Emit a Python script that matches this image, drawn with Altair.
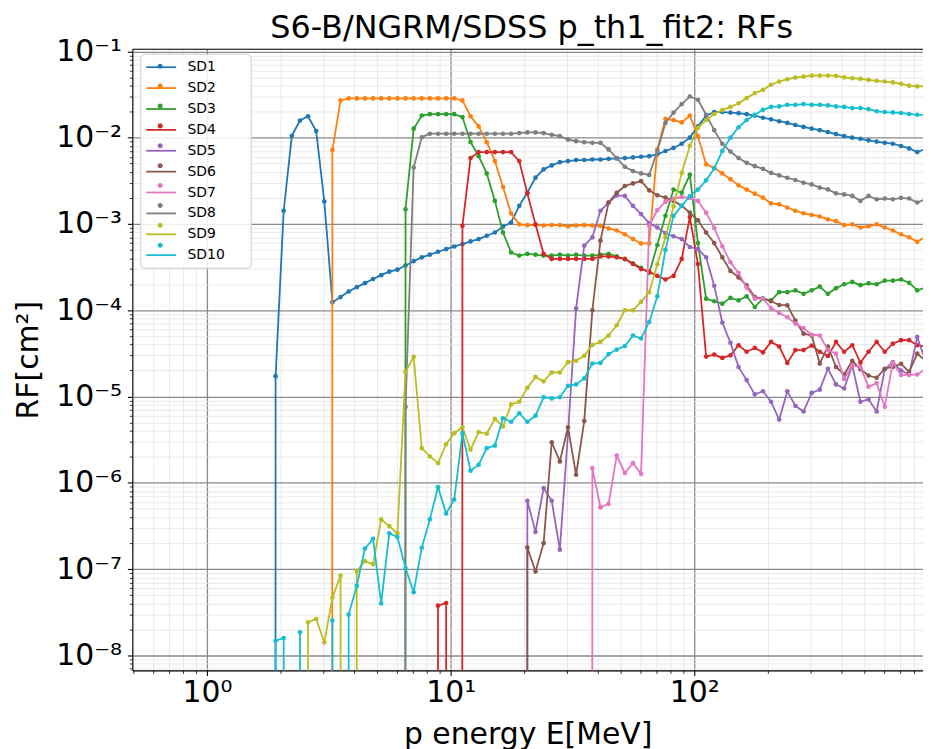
import math
import altair as alt
import pandas as pd

# ---------------- data ----------------
# energy grid (MeV), one value per plotted point
ENERGY = [
    1.771,
    1.913, 2.065, 2.230, 2.408, 2.599, 2.807, 3.031, 3.273, 3.534, 3.816,
    4.120, 4.449, 4.804, 5.187, 5.601, 6.047, 6.530, 7.051, 7.613, 8.220,
    8.877, 9.585, 10.35, 11.18, 12.07, 13.03, 14.07, 15.19, 16.40, 17.71,
    19.13, 20.65, 22.30, 24.08, 25.99, 28.07, 30.31, 32.73, 35.34, 38.16,
    41.20, 44.49, 48.04, 51.87, 56.01, 60.47, 65.30, 70.51, 76.13, 82.20,
    88.77, 95.85, 103.5, 111.8, 120.7, 130.3, 140.7, 151.9, 164.0, 177.1,
    191.3, 206.5, 223.0, 240.8, 259.9, 280.7, 303.1, 327.3, 353.4, 381.6,
    412.0, 444.9, 480.4, 518.7, 560.1, 604.7, 653.0, 705.1, 761.3, 822.0,
    887.7,
]

SD1 = [0,
    1.72e-5, 1.42e-3, 1.05e-2, 1.58e-2, 1.77e-2, 1.19e-2, 1.82e-3, 1.24e-4, 1.42e-4, 1.65e-4,
    1.85e-4, 2.06e-4, 2.3e-4, 2.55e-4, 2.8e-4, 2.95e-4, 3.3e-4, 3.7e-4, 4.1e-4, 4.4e-4,
    4.76e-4, 5.1e-4, 5.48e-4, 5.83e-4, 6.27e-4, 6.67e-4, 7.3e-4, 7.96e-4, 9.3e-4, 1.04e-3,
    1.62e-3, 2.31e-3, 3.44e-3, 4.29e-3, 4.77e-3, 5.2e-3, 5.35e-3, 5.5e-3, 5.5e-3, 5.58e-3,
    5.58e-3, 5.68e-3, 5.75e-3, 5.8e-3, 5.9e-3, 6.0e-3, 6.1e-3, 6.4e-3, 7.0e-3, 7.6e-3,
    8.5e-3, 1.0e-2, 1.35e-2, 1.8e-2, 1.98e-2, 1.98e-2, 1.95e-2, 1.92e-2, 1.87e-2, 1.8e-2,
    1.7e-2, 1.63e-2, 1.55e-2, 1.48e-2, 1.4e-2, 1.33e-2, 1.27e-2, 1.22e-2, 1.16e-2, 1.1e-2,
    1.04e-2, 1.0e-2, 9.7e-3, 9.3e-3, 9.0e-3, 8.7e-3, 8.5e-3, 8.0e-3, 7.5e-3, 6.8e-3,
    7.4e-3]

SD2 = [0,
    0, 0, 0, 0, 0, 0, 0, 7.2e-3, 2.7e-2, 2.85e-2,
    2.85e-2, 2.85e-2, 2.85e-2, 2.85e-2, 2.85e-2, 2.85e-2, 2.85e-2, 2.85e-2, 2.85e-2, 2.85e-2,
    2.85e-2, 2.85e-2, 2.85e-2, 2.7e-2, 1.77e-2, 1.35e-2, 8.85e-3, 5.35e-3, 2.68e-3, 1.32e-3,
    9.9e-4, 9.7e-4, 9.7e-4, 9.6e-4, 9.7e-4, 9.7e-4, 9.4e-4, 9.6e-4, 9.7e-4, 9.6e-4,
    9.5e-4, 8.85e-4, 8.4e-4, 7.6e-4, 6.67e-4, 5.94e-4, 5.94e-4, 7.3e-3, 1.65e-2, 1.6e-2,
    1.5e-2, 1.8e-2, 1.04e-2, 4.9e-3, 4.47e-3, 3.85e-3, 3.3e-3, 2.8e-3, 2.5e-3, 2.24e-3,
    2.02e-3, 1.73e-3, 1.69e-3, 1.55e-3, 1.42e-3, 1.33e-3, 1.27e-3, 1.22e-3, 1.13e-3, 1.08e-3,
    9.7e-4, 9.9e-4, 9.1e-4, 9.4e-4, 9.9e-4, 9.1e-4, 8.4e-4, 7.6e-4, 7.0e-4, 6.2e-4,
    7.1e-4]

SD3 = [0,
    0, 0, 0, 0, 0, 0, 0, 0, 0, 0,
    0, 0, 0, 0, 0, 0, 1.48e-3, 1.27e-2, 1.8e-2, 1.87e-2,
    1.87e-2, 1.87e-2, 1.87e-2, 1.73e-2, 8.9e-3, 6.1e-3, 3.85e-3, 1.85e-3, 7.96e-4, 4.67e-4,
    4.3e-4, 4.5e-4, 4.4e-4, 4.3e-4, 4.3e-4, 4.4e-4, 4.3e-4, 4.4e-4, 4.3e-4, 4.3e-4,
    4.4e-4, 4.5e-4, 4.2e-4, 3.9e-4, 3.5e-4, 3.1e-4, 2.7e-4, 5.7e-4, 1.24e-3, 2.5e-3,
    2.3e-3, 3.7e-3, 6.0e-4, 1.36e-4, 1.27e-4, 1.19e-4, 1.39e-4, 1.3e-4, 1.45e-4, 1.09e-4,
    1.36e-4, 1.3e-4, 1.62e-4, 1.62e-4, 1.7e-4, 1.55e-4, 1.7e-4, 1.88e-4, 1.55e-4, 1.8e-4,
    2.0e-4, 2.13e-4, 1.95e-4, 2.05e-4, 2.0e-4, 2.2e-4, 2.2e-4, 2.27e-4, 2.08e-4, 1.7e-4,
    1.83e-4]

SD4 = [0,
    0, 0, 0, 0, 0, 0, 0, 0, 0, 0,
    0, 0, 0, 0, 0, 0, 0, 0, 0, 0,
    3.77e-8, 4.04e-8, 0, 9.5e-4, 5.8e-3, 6.8e-3, 6.8e-3, 6.8e-3, 6.8e-3, 6.8e-3,
    5.35e-3, 2.26e-3, 9.9e-4, 4.5e-4, 3.93e-4, 3.93e-4, 3.93e-4, 3.93e-4, 3.93e-4, 3.93e-4,
    4.2e-4, 4.2e-4, 4.1e-4, 3.93e-4, 3.43e-4, 3.0e-4, 2.8e-4, 2.5e-4, 2.27e-4, 2.5e-4,
    3.93e-4, 1.2e-3, 3.43e-4, 2.9e-5, 3.06e-5, 2.8e-5, 3.0e-5, 3.93e-5, 3.3e-5, 3.66e-5,
    3.25e-5, 4.29e-5, 3.8e-5, 2.45e-5, 3.45e-5, 3.45e-5, 3.9e-5, 3.3e-5, 2.95e-5, 4.29e-5,
    3.3e-5, 3.93e-5, 2.47e-5, 3.3e-5, 4.29e-5, 3.3e-5, 4.1e-5, 4.5e-5, 4.5e-5, 3.93e-5,
    3.8e-5]

SD5 = [0,
    0, 0, 0, 0, 0, 0, 0, 0, 0, 0,
    0, 0, 0, 0, 0, 0, 0, 0, 0, 0,
    0, 0, 0, 0, 0, 0, 0, 0, 0, 0,
    0, 6.2e-7, 2.7e-7, 8.7e-7, 6.2e-7, 1.68e-7, 3.72e-6, 1.05e-4, 5.6e-4, 7.0e-4,
    1.42e-3, 1.77e-3, 2.14e-3, 2.11e-3, 1.62e-3, 1.3e-3, 1.02e-3, 9.1e-4, 7.8e-4, 7.2e-4,
    6.67e-4, 5.4e-4, 5.1e-4, 4.1e-4, 1.92e-4, 7.2e-5, 4.2e-5, 2.2e-5, 1.55e-5, 1.06e-5,
    1.15e-5, 8.7e-6, 5.4e-6, 1.15e-5, 7.8e-6, 6.7e-6, 1.1e-5, 1.2e-5, 2.1e-5, 1.38e-5,
    1.24e-5, 2.3e-5, 8.7e-6, 9.3e-6, 6.7e-6, 2.07e-5, 2.5e-5, 2.0e-5, 1.8e-5, 4.9e-5,
    2.6e-5]

SD6 = [0,
    0, 0, 0, 0, 0, 0, 0, 0, 0, 0,
    0, 0, 0, 0, 0, 0, 0, 0, 0, 0,
    0, 0, 0, 0, 0, 0, 0, 0, 0, 0,
    0, 1.78e-7, 9.4e-8, 2.0e-7, 2.95e-6, 1.77e-6, 4.4e-6, 1.24e-6, 5.2e-6, 1.0e-4,
    6.4e-4, 1.77e-3, 2.3e-3, 2.75e-3, 2.95e-3, 3.14e-3, 2.45e-3, 2.15e-3, 2.02e-3, 1.85e-3,
    1.62e-3, 1.35e-3, 1.1e-3, 7.96e-4, 6.0e-4, 4.1e-4, 2.85e-4, 2.4e-4, 1.94e-4, 1.42e-4,
    1.36e-4, 1.27e-4, 1.15e-4, 1.14e-4, 7.6e-5, 5.35e-5, 5.1e-5, 2.41e-5, 3.8e-5, 2.2e-5,
    1.8e-5, 2.6e-5, 2.07e-5, 1.75e-5, 1.65e-5, 2.1e-5, 2.2e-5, 2.4e-5, 1.93e-5, 3.14e-5,
    2.6e-5]

SD7 = [0,
    0, 0, 0, 0, 0, 0, 0, 0, 0, 0,
    0, 0, 0, 0, 0, 0, 0, 0, 0, 0,
    0, 0, 0, 0, 0, 0, 0, 0, 0, 0,
    0, 0, 0, 0, 0, 0, 0, 0, 0, 1.48e-6,
    5.2e-7, 5.7e-7, 2.07e-6, 1.3e-6, 1.69e-6, 1.27e-6, 9.5e-4, 1.45e-3, 1.8e-3, 1.95e-3,
    2.05e-3, 2.0e-3, 1.85e-3, 1.35e-3, 9.0e-4, 5.5e-4, 3.6e-4, 2.7e-4, 1.83e-4, 1.36e-4,
    1.36e-4, 1.06e-4, 9.3e-5, 8.3e-5, 7.0e-5, 6.2e-5, 5.2e-5, 5.1e-5, 3.45e-5, 3.14e-5,
    1.6e-5, 2.3e-5, 2.2e-5, 1.3e-5, 1.43e-5, 7.6e-6, 2.47e-5, 1.78e-5, 1.78e-5, 1.8e-5,
    2.07e-5]

SD8 = [0,
    0, 0, 0, 0, 0, 0, 0, 0, 0, 0,
    0, 0, 0, 0, 0, 0, 7.6e-6, 4.5e-3, 1.01e-2, 1.11e-2,
    1.11e-2, 1.11e-2, 1.11e-2, 1.11e-2, 1.11e-2, 1.11e-2, 1.11e-2, 1.11e-2, 1.11e-2, 1.11e-2,
    1.13e-2, 1.15e-2, 1.15e-2, 1.13e-2, 1.08e-2, 1.04e-2, 9.5e-3, 9.1e-3, 8.85e-3, 8.7e-3,
    8.7e-3, 7.3e-3, 5.8e-3, 4.6e-3, 4.1e-3, 3.85e-3, 3.7e-3, 7.0e-3, 1.48e-2, 1.95e-2,
    2.45e-2, 3.0e-2, 2.75e-2, 1.84e-2, 1.22e-2, 8.5e-3, 6.9e-3, 5.8e-3, 5.1e-3, 4.67e-3,
    4.35e-3, 3.9e-3, 3.65e-3, 3.43e-3, 3.23e-3, 3.0e-3, 2.87e-3, 2.63e-3, 2.51e-3, 2.26e-3,
    2.2e-3, 2.11e-3, 1.85e-3, 2.11e-3, 1.93e-3, 1.97e-3, 1.93e-3, 2.0e-3, 1.97e-3, 1.77e-3,
    1.93e-3]

SD9 = [0,
    0, 0, 0, 0, 2.42e-8, 2.64e-8, 1.42e-8, 4.69e-8, 8.4e-8, 0,
    9.5e-8, 1.24e-7, 1.14e-7, 3.77e-7, 3.15e-7, 2.6e-7, 1.93e-5, 2.88e-5, 2.52e-6, 2.02e-6,
    1.69e-6, 2.8e-6, 3.76e-6, 4.4e-6, 2.42e-6, 3.86e-6, 3.7e-6, 5.5e-6, 4.5e-6, 8.1e-6,
    8.7e-6, 1.26e-5, 1.69e-5, 1.5e-5, 1.9e-5, 1.9e-5, 2.5e-5, 2.6e-5, 2.96e-5, 3.95e-5,
    4.29e-5, 5.1e-5, 6.7e-5, 1.0e-4, 1.0e-4, 1.25e-4, 1.62e-4, 3.4e-4, 7.0e-4, 1.6e-3,
    3.9e-3, 8.0e-3, 1.3e-2, 1.6e-2, 1.88e-2, 2.08e-2, 2.27e-2, 2.5e-2, 2.87e-2, 3.28e-2,
    3.58e-2, 4.1e-2, 4.47e-2, 4.75e-2, 4.97e-2, 5.1e-2, 5.24e-2, 5.24e-2, 5.24e-2, 5.2e-2,
    5.0e-2, 4.88e-2, 4.8e-2, 4.67e-2, 4.55e-2, 4.47e-2, 4.36e-2, 4.2e-2, 4.0e-2, 3.92e-2,
    3.95e-2]

SD10 = [0,
    1.48e-8, 1.59e-8, 0, 1.85e-8, 0, 0, 0, 2.53e-8, 0, 2.97e-8,
    6.4e-8, 1.73e-7, 2.25e-7, 4.0e-8, 2.6e-7, 2.35e-7, 1.03e-7, 5.4e-8, 1.77e-7, 3.77e-7,
    8.9e-7, 4.4e-7, 6.4e-7, 3.76e-6, 1.38e-6, 1.62e-6, 2.52e-6, 2.7e-6, 5.6e-6, 5.1e-6,
    6.4e-6, 5.1e-6, 6.0e-6, 9.8e-6, 9.5e-6, 9.8e-6, 1.33e-5, 1.38e-5, 1.62e-5, 2.41e-5,
    2.45e-5, 3.1e-5, 3.5e-5, 3.85e-5, 5.1e-5, 4.7e-5, 7.3e-5, 1.45e-4, 5.0e-4, 1.24e-3,
    1.62e-3, 2.1e-3, 2.5e-3, 3.2e-3, 4.4e-3, 7.0e-3, 1.0e-2, 1.32e-2, 1.6e-2, 1.84e-2,
    2.1e-2, 2.27e-2, 2.3e-2, 2.4e-2, 2.4e-2, 2.45e-2, 2.4e-2, 2.4e-2, 2.36e-2, 2.3e-2,
    2.27e-2, 2.2e-2, 2.2e-2, 2.14e-2, 2.02e-2, 1.98e-2, 1.96e-2, 1.93e-2, 1.88e-2, 1.84e-2,
    1.84e-2]

SERIES = ["SD1", "SD2", "SD3", "SD4", "SD5", "SD6", "SD7", "SD8", "SD9", "SD10"]
COLORS = ["#1f77b4", "#ff7f0e", "#2ca02c", "#d62728", "#9467bd",
          "#8c564b", "#e377c2", "#7f7f7f", "#bcbd22", "#17becf"]
VALUES = [SD1, SD2, SD3, SD4, SD5, SD6, SD7, SD8, SD9, SD10]

X_MAJOR = [1, 10, 100]
X_MINOR = [0.5, 0.6, 0.7, 0.8, 0.9, 2, 3, 4, 5, 6, 7, 8, 9,
           20, 30, 40, 50, 60, 70, 80, 90, 200, 300, 400, 500, 600, 700, 800]
Y_MAJOR = [1e-8, 1e-7, 1e-6, 1e-5, 1e-4, 1e-3, 1e-2, 1e-1]
XDOM = [0.494, 868]
YDOM = [6.7e-9, 0.107]
Y_MINOR = [m * 10.0 ** e for e in range(-9, -1) for m in range(2, 10)
           if YDOM[0] <= m * 10.0 ** e <= YDOM[1]]

TITLE = "S6-B/NGRM/SDSS p_th1_fit2: RFs"
XTITLE = "p energy E[MeV]"
YTITLE = "RF[cm²]"

# ---------------- table ----------------
rows = []
for name, vals in zip(SERIES, VALUES):
    assert len(vals) == len(ENERGY), (name, len(vals))
    for i, (e, v) in enumerate(zip(ENERGY, vals)):
        # like matplotlib's log-axis clipping: non-positive values fall off the bottom
        rows.append({"series": name, "E": e, "RF": v, "idx": i,
                     "RFp": v if v > 0 else 1e-300})
df = pd.DataFrame(rows)

FONT = "DejaVu Sans"
SUP = str.maketrans("-0123456789", "⁻⁰¹²³⁴⁵⁶⁷⁸⁹")


def pow_expr(vals):
    expr = "''"
    for v in vals:
        e = int(round(math.log10(v)))
        lab = "10" + str(e).translate(SUP)
        expr = f"abs(log(datum.value)/LN10 - ({e})) < 0.01 ? '{lab}' : " + expr
    return expr


xs = alt.Scale(type="log", domain=XDOM, nice=False)
ys = alt.Scale(type="log", domain=YDOM, nice=False)
cs = alt.Scale(domain=SERIES, range=COLORS)

base = alt.Chart(df)

minor_layer = base.mark_point(opacity=0, clip=True).encode(
    x=alt.X("E:Q", scale=xs, axis=alt.Axis(
        orient="bottom", values=X_MINOR, labels=False, grid=True,
        gridColor="#e3e3e3", gridWidth=0.8, ticks=True, tickSize=3,
        tickColor="#000000", tickWidth=0.8, domain=False, title=None)),
    y=alt.Y("RFp:Q", scale=ys, axis=alt.Axis(
        orient="left", values=Y_MINOR, labels=False, grid=True,
        gridColor="#e3e3e3", gridWidth=0.8, ticks=True, tickSize=3,
        tickColor="#000000", tickWidth=0.8, domain=False, title=None)),
)

major_layer = base.mark_point(opacity=0, clip=True).encode(
    x=alt.X("E:Q", scale=xs, axis=alt.Axis(
        orient="bottom", values=X_MAJOR, labelExpr=pow_expr(X_MAJOR),
        grid=True, gridColor="#8a8a8a", gridWidth=1.3,
        ticks=True, tickSize=5, tickColor="#000000", tickWidth=1.1,
        domain=True, domainColor="#000000", domainWidth=1.1,
        labelFont=FONT, labelFontSize=30, labelColor="#000000", labelPadding=2,
        labelFlush=False,
        title=XTITLE, titleFont=FONT, titleFontSize=30, titleFontWeight="normal",
        titleColor="#000000", titlePadding=12)),
    y=alt.Y("RFp:Q", scale=ys, axis=alt.Axis(
        orient="left", values=Y_MAJOR, labelExpr=pow_expr(Y_MAJOR),
        grid=True, gridColor="#8a8a8a", gridWidth=1.3,
        ticks=True, tickSize=5, tickColor="#000000", tickWidth=1.1,
        domain=True, domainColor="#000000", domainWidth=1.1,
        labelFont=FONT, labelFontSize=30, labelColor="#000000", labelPadding=6,
        labelFlush=False,
        title=YTITLE, titleFont=FONT, titleFontSize=30, titleFontWeight="normal",
        titleColor="#000000", titlePadding=12)),
)

top_layer = base.mark_point(opacity=0, clip=True).encode(
    x=alt.X("E:Q", scale=xs, axis=alt.Axis(
        orient="top", labels=False, ticks=False, grid=False, domain=True,
        domainColor="#000000", domainWidth=1.1, title=None)),
    y=alt.Y("RFp:Q", scale=ys, axis=None),
)

LEG_COMMON = dict(
    title=None, orient="none", legendX=8, legendY=5,
    symbolSize=225, symbolOffset=7.5,
    labelFont=FONT, labelFontSize=14, labelOffset=18,
    padding=5, rowPadding=5,
)
# line part of the legend key (drawn first, carries the box and labels);
# blank braille cells widen the frame like matplotlib's legend box
LEGEND_LINE = alt.Legend(
    symbolType="M-2,0H2", symbolStrokeWidth=1.8, labelColor="#000000",
    labelExpr="datum.label + '\u2800\u2800'",
    fillColor="rgba(255,255,255,0.85)", strokeColor="#cccccc", cornerRadius=4,
    **LEG_COMMON)
# dot part of the legend key (drawn on top, same layout, no box, no labels)
LEGEND_DOT = alt.Legend(
    symbolType="M-0.34,0A0.34,0.34,0,1,0,0.34,0A0.34,0.34,0,1,0,-0.34,0Z",
    symbolStrokeWidth=0, labelExpr="''", **LEG_COMMON)

layers = [minor_layer, major_layer, top_layer]
for j, s in enumerate(SERIES):
    sub = base.transform_filter(alt.datum.series == s)
    line = sub.mark_line(strokeWidth=1.8, clip=True).encode(
        x=alt.X("E:Q", scale=xs, axis=None),
        y=alt.Y("RFp:Q", scale=ys, axis=None),
        color=alt.Color("series:N", scale=cs,
                        legend=LEGEND_LINE if j == 0 else None),
        order=alt.Order("idx:Q"),
    )
    pts = sub.transform_filter(alt.datum.RF > 0).mark_circle(
        size=22, opacity=1, clip=True).encode(
        x=alt.X("E:Q", scale=xs, axis=None),
        y=alt.Y("RFp:Q", scale=ys, axis=None),
        color=alt.Color("series:N", scale=cs,
                        legend=LEGEND_DOT if j == 0 else None),
    )
    layers += [line, pts]

chart = alt.layer(*layers).resolve_axis(
    x="independent", y="independent"
).resolve_legend(color="independent").properties(
    width=795, height=625,
    title=alt.Title(TITLE, font=FONT, fontSize=32, fontWeight="normal",
                    color="#000000", offset=-9, anchor="middle", dx=4),
    padding={"left": 5, "top": 2, "right": 0, "bottom": 0},
).configure_view(stroke="transparent").configure(background="white")

chart.save("out.html", embed_options={"renderer": "svg", "actions": False})
